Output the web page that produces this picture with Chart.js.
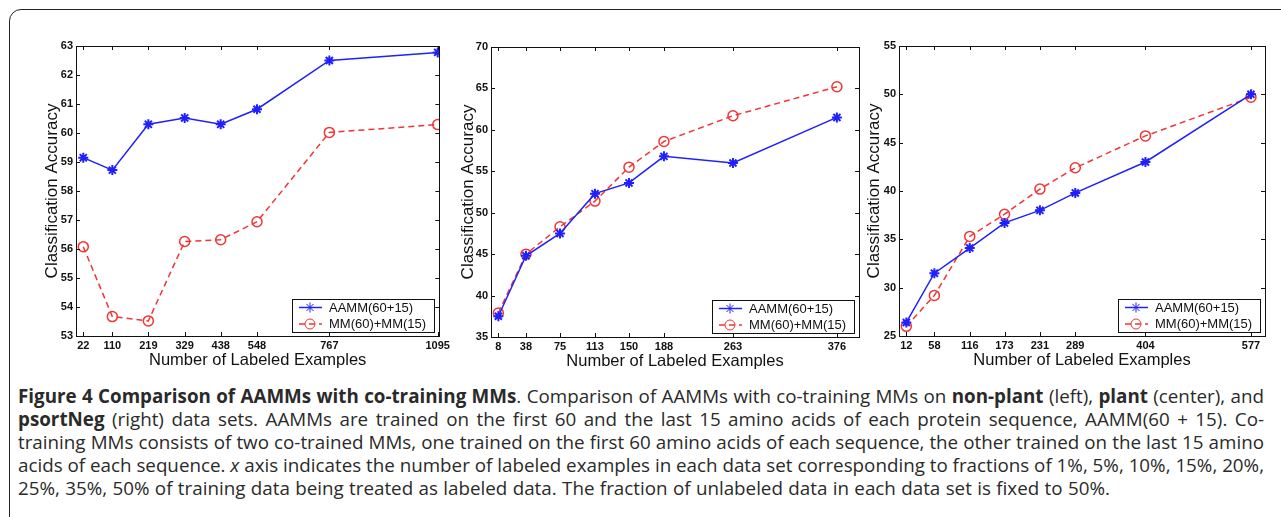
<!DOCTYPE html>
<html>
<head>
<meta charset="utf-8">
<script src="https://cdn.jsdelivr.net/npm/chart.js@4.4.1/dist/chart.umd.min.js"></script>
<style>
    html, body { margin: 0; padding: 0; background: #fff; width: 1281px; height: 517px; overflow: hidden; }
    #frame { position: absolute; left: 9px; top: 9px; width: 1400px; height: 700px; border: 1.5px solid #222; border-top-left-radius: 12px; }
    .plot { position: absolute; }
    #caption { position: absolute; left: 18px; top: 385px; width: 1246px; font-family: "Open Sans", sans-serif; font-size: 18.8px; line-height: 23px; color: #2a2a2a; }
    #caption .ln { text-align: justify; text-align-last: justify; }
    #caption .ln.last { text-align-last: left; word-spacing: 0.5px; }
</style>
</head>
<body>
<div id="frame"></div>
<div class="plot" style="left:42px;top:36px;width:411px;height:334px"><canvas id="chartNonPlant"></canvas></div>
<div class="plot" style="left:458px;top:37px;width:411px;height:334px"><canvas id="chartPlant"></canvas></div>
<div class="plot" style="left:864px;top:36px;width:411px;height:334px"><canvas id="chartPsort"></canvas></div>
<div id="caption">
    <div class="ln"><b>Figure 4 Comparison of AAMMs with co-training MMs</b>. Comparison of AAMMs with co-training MMs on <b>non-plant</b> (left), <b>plant</b> (center), and</div>
    <div class="ln"><b>psortNeg</b> (right) data sets. AAMMs are trained on the first 60 and the last 15 amino acids of each protein sequence, AAMM(60 + 15). Co-</div>
    <div class="ln">training MMs consists of two co-trained MMs, one trained on the first 60 amino acids of each sequence, the other trained on the last 15 amino</div>
    <div class="ln">acids of each sequence. <i>x</i> axis indicates the number of labeled examples in each data set corresponding to fractions of 1%, 5%, 10%, 15%, 20%,</div>
    <div class="ln last">25%, 35%, 50% of training data being treated as labeled data. The fraction of unlabeled data in each data set is fixed to 50%.</div>
</div>
<script>
// Datos
const seriesLabels = ['AAMM(60+15)', 'MM(60)+MM(15)'];

const nonPlantX = [22, 110, 219, 329, 438, 548, 767, 1095];
const nonPlantAAMM = [59.15, 58.72, 60.30, 60.52, 60.30, 60.82, 62.50, 62.78];
const nonPlantMM = [56.08, 53.67, 53.52, 56.26, 56.32, 56.94, 60.02, 60.29];
const nonPlantYTicks = [53, 54, 55, 56, 57, 58, 59, 60, 61, 62, 63];

const plantX = [8, 38, 75, 113, 150, 188, 263, 376];
const plantAAMM = [37.5, 44.8, 47.5, 52.3, 53.6, 56.8, 56.0, 61.5];
const plantMM = [37.9, 45.0, 48.3, 51.4, 55.5, 58.6, 61.7, 65.2];
const plantYTicks = [35, 40, 45, 50, 55, 60, 65, 70];

const psortX = [12, 58, 116, 173, 231, 289, 404, 577];
const psortAAMM = [26.4, 31.5, 34.1, 36.7, 38.0, 39.8, 43.0, 50.0];
const psortMM = [26.0, 29.2, 35.3, 37.6, 40.2, 42.4, 45.7, 49.7];
const psortYTicks = [25, 30, 35, 40, 45, 50, 55];

const BLUE = '#2020ff';
const RED = '#f03535';

// Caja, marcas hacia dentro y leyenda estilo MATLAB
const matlabAxes = {
    id: 'matlabAxes',
    afterDatasetsDraw(chart) {
        const ctx = chart.ctx;
        const a = chart.chartArea;
        const xs = chart.scales.x, ys = chart.scales.y;
        ctx.save();
        ctx.strokeStyle = '#111';
        ctx.lineWidth = 1;
        ctx.strokeRect(Math.round(a.left) + 0.5, Math.round(a.top) + 0.5, Math.round(a.right - a.left), Math.round(a.bottom - a.top));
        ctx.beginPath();
        xs.ticks.forEach(t => {
            const px = Math.round(xs.getPixelForValue(t.value)) + 0.5;
            ctx.moveTo(px, a.bottom); ctx.lineTo(px, a.bottom - 4);
            ctx.moveTo(px, a.top); ctx.lineTo(px, a.top + 4);
        });
        ys.ticks.forEach(t => {
            const py = Math.round(ys.getPixelForValue(t.value)) + 0.5;
            ctx.moveTo(a.left, py); ctx.lineTo(a.left + 4, py);
            ctx.moveTo(a.right, py); ctx.lineTo(a.right - 4, py);
        });
        ctx.stroke();
        ctx.restore();
    },
    afterDraw(chart) {
        const ctx = chart.ctx;
        const a = chart.chartArea;
        const w = 142, h = 33;
        const x0 = Math.round(a.right - 5 - w), y0 = Math.round(a.bottom - 4 - h);
        ctx.save();
        ctx.fillStyle = '#fff';
        ctx.fillRect(x0, y0, w, h);
        ctx.strokeStyle = '#111';
        ctx.lineWidth = 1;
        ctx.strokeRect(x0 + 0.5, y0 + 0.5, w, h);
        chart.data.datasets.forEach((ds, i) => {
            const cy = y0 + 8.5 + i * 16.5;
            ctx.save();
            ctx.strokeStyle = ds.borderColor;
            ctx.lineWidth = ds.borderWidth;
            ctx.setLineDash(ds.borderDash || []);
            ctx.beginPath();
            ctx.moveTo(x0 + 7, cy); ctx.lineTo(x0 + 30, cy);
            ctx.stroke();
            ctx.restore();
            ctx.strokeStyle = ds.pointBorderColor;
            ctx.fillStyle = ds.pointBackgroundColor;
            Chart.helpers.drawPoint(ctx, { pointStyle: ds.pointStyle, radius: ds.pointRadius, borderWidth: ds.pointBorderWidth, rotation: 0 }, x0 + 18, cy);
            ctx.fillStyle = '#111';
            ctx.font = '13px "Liberation Sans"';
            ctx.textBaseline = 'middle';
            ctx.fillText(ds.label, x0 + 37, cy + 0.5);
        });
        ctx.restore();
    }
};

const tickFont = { family: 'Liberation Sans', size: 11, weight: 'bold' };

function makeChart(id, xs, aamm, mm, yTicks, xMax, yWidth) {
    const toPoints = arr => arr.map((v, i) => ({ x: xs[i], y: v }));
    new Chart(document.getElementById(id), {
        type: 'line',
        data: {
            datasets: [
                {
                    label: seriesLabels[0],
                    data: toPoints(aamm),
                    borderColor: BLUE,
                    borderWidth: 1.5,
                    pointStyle: 'star',
                    pointRadius: 5,
                    pointBorderWidth: 2,
                    pointBorderColor: BLUE,
                    pointBackgroundColor: BLUE,
                    tension: 0
                },
                {
                    label: seriesLabels[1],
                    data: toPoints(mm),
                    borderColor: RED,
                    borderWidth: 1.5,
                    borderDash: [6, 4],
                    pointStyle: 'circle',
                    pointRadius: 5,
                    pointBorderWidth: 1.5,
                    pointBorderColor: RED,
                    pointBackgroundColor: 'rgba(0,0,0,0)',
                    tension: 0
                }
            ]
        },
        options: {
            responsive: true,
            maintainAspectRatio: false,
            animation: false,
            layout: { padding: { top: 10, right: 10, left: 0, bottom: 0 } },
            plugins: { legend: { display: false }, tooltip: { enabled: false } },
            scales: {
                x: {
                    type: 'linear',
                    min: 0,
                    max: xMax,
                    afterBuildTicks: scale => { scale.ticks = xs.map(v => ({ value: v })); },
                    afterFit: scale => { scale.height = 34; },
                    grid: { display: false, drawTicks: false },
                    border: { display: false },
                    ticks: { autoSkip: false, maxRotation: 0, padding: 3, color: '#111', font: tickFont, callback: v => String(v) },
                    title: { display: true, text: 'Number of Labeled Examples', color: '#111', padding: 0, font: { family: 'Liberation Sans', size: 16.5 } }
                },
                y: {
                    min: yTicks[0],
                    max: yTicks[yTicks.length - 1],
                    afterBuildTicks: scale => { scale.ticks = yTicks.map(v => ({ value: v })); },
                    afterFit: scale => { scale.width = yWidth; },
                    grid: { display: false, drawTicks: false },
                    border: { display: false },
                    ticks: { padding: 3, color: '#111', font: tickFont, callback: v => String(v) },
                    title: { display: true, text: 'Classification Accuracy', color: '#111', padding: 0, font: { family: 'Liberation Sans', size: 17 } }
                }
            }
        },
        plugins: [matlabAxes]
    });
}

makeChart('chartNonPlant', nonPlantX, nonPlantAAMM, nonPlantMM, nonPlantYTicks, 1100, 34);
makeChart('chartPlant', plantX, plantAAMM, plantMM, plantYTicks, 400, 33);
makeChart('chartPsort', psortX, psortAAMM, psortMM, psortYTicks, 600, 35);
</script>
</body>
</html>
